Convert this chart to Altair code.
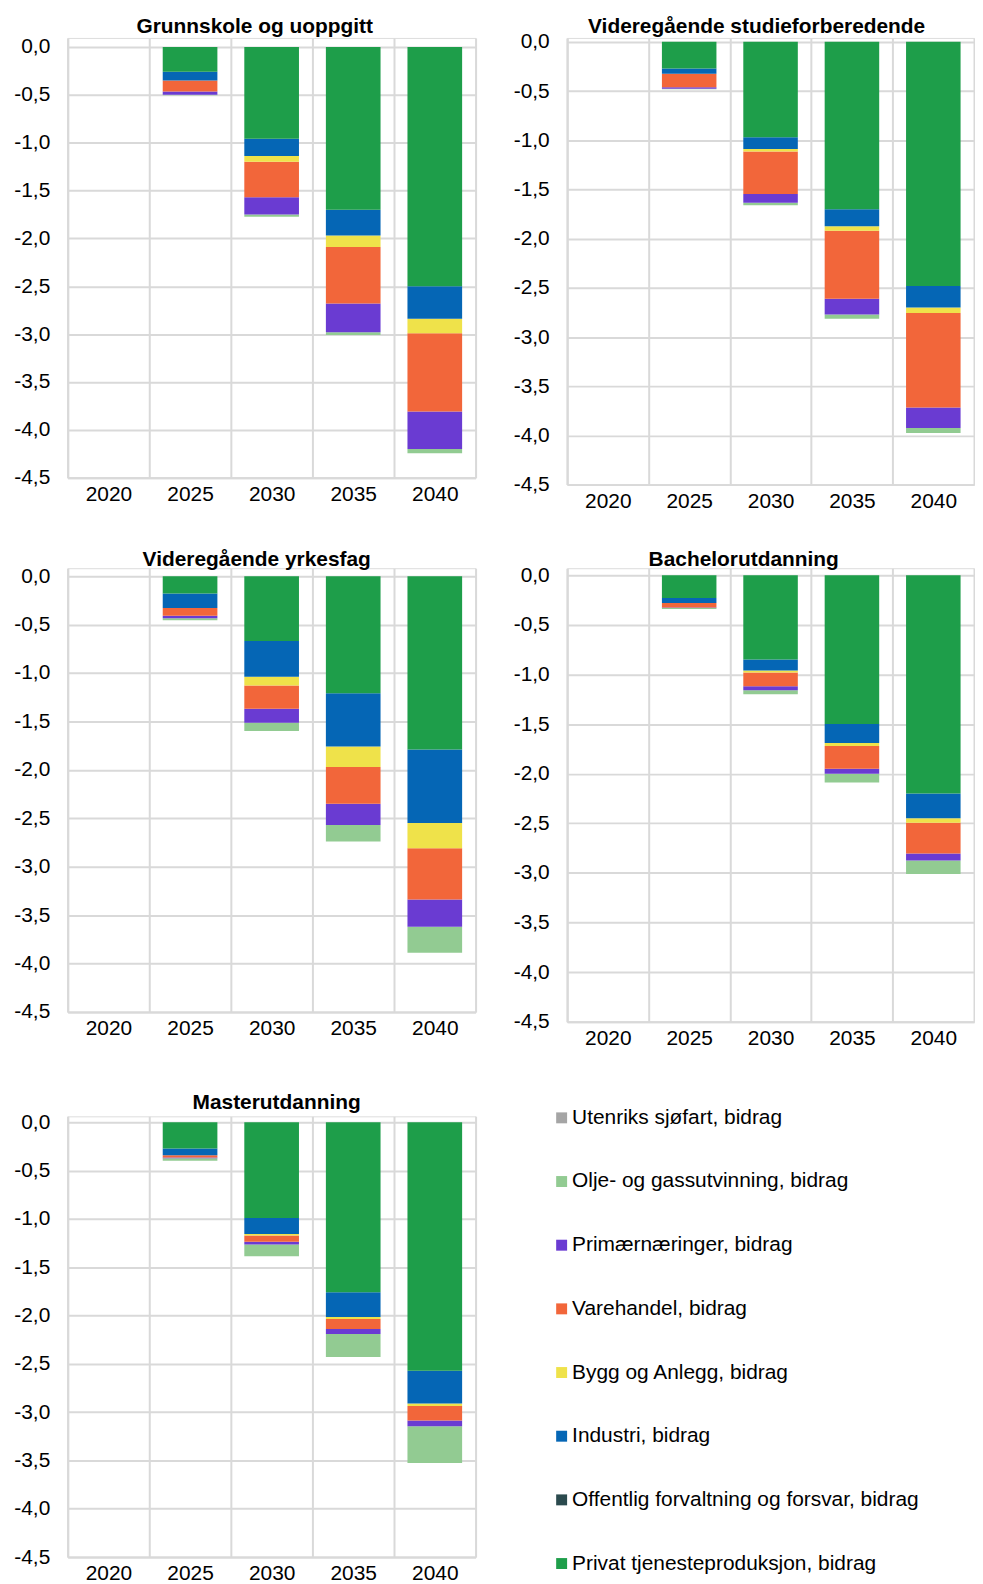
import altair as alt
import pandas as pd

years = ["2020", "2025", "2030", "2035", "2040"]

sectors = [
    "Utenriks sjøfart, bidrag",
    "Olje- og gassutvinning, bidrag",
    "Primærnæringer, bidrag",
    "Varehandel, bidrag",
    "Bygg og Anlegg, bidrag",
    "Industri, bidrag",
    "Offentlig forvaltning og forsvar, bidrag",
    "Privat tjenesteproduksjon, bidrag",
]
colors = ["#A5A5A5", "#92CB92", "#6A3BD2", "#F2663A", "#EFE24A", "#0566B5", "#2B4A4E", "#1E9E4A"]
stack_rank = [7, 6, 5, 4, 3, 2, 1, 0]  # 0 = nearest zero

# values per sector (same order as `sectors`), per year
grunnskole = [
    [0, 0, 0, 0, 0],
    [0, -0.005, -0.025, -0.03, -0.045],
    [0, -0.035, -0.18, -0.30, -0.39],
    [0, -0.115, -0.37, -0.59, -0.82],
    [0, 0, -0.06, -0.12, -0.15],
    [0, -0.09, -0.18, -0.27, -0.34],
    [0, 0, 0, 0, 0],
    [0, -0.26, -0.96, -1.70, -2.50],
]
vgs_studie = [
    [0, 0, 0, 0, 0],
    [0, -0.005, -0.025, -0.045, -0.05],
    [0, -0.017, -0.09, -0.16, -0.21],
    [0, -0.135, -0.43, -0.69, -0.96],
    [0, 0, -0.025, -0.045, -0.055],
    [0, -0.055, -0.12, -0.175, -0.22],
    [0, 0, 0, 0, 0],
    [0, -0.27, -0.97, -1.70, -2.48],
]
vgs_yrkes = [
    [0, 0, 0, 0, 0],
    [0, -0.02, -0.085, -0.17, -0.27],
    [0, -0.025, -0.145, -0.22, -0.28],
    [0, -0.08, -0.24, -0.38, -0.53],
    [0, 0, -0.09, -0.21, -0.26],
    [0, -0.15, -0.37, -0.55, -0.76],
    [0, 0, 0, 0, 0],
    [0, -0.18, -0.67, -1.21, -1.79],
]
bachelor = [
    [0, 0, 0, 0, 0],
    [0, -0.01, -0.04, -0.09, -0.135],
    [0, -0.007, -0.04, -0.05, -0.07],
    [0, -0.045, -0.14, -0.23, -0.31],
    [0, 0, -0.02, -0.03, -0.045],
    [0, -0.05, -0.11, -0.19, -0.25],
    [0, 0, 0, 0, 0],
    [0, -0.23, -0.85, -1.50, -2.20],
]
master = [
    [0, 0, 0, 0, 0],
    [0, -0.025, -0.12, -0.24, -0.38],
    [0, -0.007, -0.03, -0.05, -0.06],
    [0, -0.025, -0.065, -0.105, -0.15],
    [0, 0, -0.015, -0.02, -0.025],
    [0, -0.07, -0.165, -0.255, -0.34],
    [0, 0, 0, 0, 0],
    [0, -0.27, -0.99, -1.76, -2.57],
]

y_ticks = [0, -0.5, -1.0, -1.5, -2.0, -2.5, -3.0, -3.5, -4.0, -4.5]

FONT = "Liberation Sans"
GRID = "#D9D9D9"


def frame(values):
    rows = []
    for s, sec in enumerate(sectors):
        for j, yr in enumerate(years):
            rows.append({"year": yr, "sector": sec, "value": values[s][j], "rank": stack_rank[s]})
    return pd.DataFrame(rows)


def panel(title, values, width, height, top, dx, offset, legend=None):
    if legend is None:
        legend_spec = None
    else:
        legend_spec = alt.Legend(
            title=None, orient="none", legendX=legend[0], legendY=legend[1],
            symbolType="square", symbolSize=121, symbolStrokeWidth=0,
            labelFontSize=21, labelFont=FONT, labelColor="#000",
            rowPadding=42, labelOffset=0, labelLimit=600, padding=0,
        )
    return (
        alt.Chart(frame(values))
        .mark_bar(width=alt.RelativeBandSize(0.67))
        .encode(
            x=alt.X(
                "year:N",
                sort=years,
                scale=alt.Scale(paddingInner=0, paddingOuter=0),
                axis=alt.Axis(
                    title=None, labelAngle=0, tickBand="extent", grid=True, ticks=False,
                    gridColor=GRID, gridWidth=2, domainColor=GRID, domainWidth=2,
                    labelPadding=6, labelFontSize=21, labelColor="#000", labelFont=FONT,
                ),
            ),
            y=alt.Y(
                "value:Q",
                stack="zero",
                scale=alt.Scale(domain=[-4.5, top], nice=False, zero=False),
                axis=alt.Axis(
                    title=None, values=y_ticks, grid=True, ticks=False,
                    gridColor=GRID, gridWidth=2, domainColor=GRID, domainWidth=2,
                    labelPadding=18, labelFontSize=21, labelColor="#000", labelFont=FONT,
                    labelExpr="(datum.value < 0 ? '-' : '') + replace(format(abs(datum.value), '.1f'), '.', ',')",
                ),
            ),
            color=alt.Color(
                "sector:N",
                scale=alt.Scale(domain=sectors, range=colors),
                legend=legend_spec,
            ),
            order=alt.Order("rank:Q", sort="ascending"),
        )
        .properties(
            width=width,
            height=height,
            title=alt.TitleParams(
                title, fontSize=21, fontWeight="bold", font=FONT, color="#000",
                anchor="middle", dx=dx, offset=offset,
            ),
        )
    )


p1 = panel("Grunnskole og uoppgitt", grunnskole, 410, 442, 0.094, -17, -1)
p2 = panel("Videregående studieforberedende", vgs_studie, 409, 449, 0.040, -14, -6)
p3 = panel("Videregående yrkesfag", vgs_yrkes, 410, 446, 0.082, -15, -5)
p4 = panel("Bachelorutdanning", bachelor, 409, 456, 0.070, -27, -6)
p5 = panel("Masterutdanning", master, 410, 443, 0.062, 5, -6, legend=(486, -9))

top_rows = alt.vconcat(
    alt.hconcat(p1, p2, spacing=36),
    alt.hconcat(p3, p4, spacing=36),
    spacing=36,
)

chart = (
    alt.vconcat(top_rows, p5, spacing=42)
    .resolve_legend(color="independent")
    .configure_view(stroke=None)
    .configure(font=FONT, padding={"left": 5, "top": 3, "right": 0, "bottom": 0})
)

chart.save("out.html", embed_options={"renderer": "svg", "actions": False})
